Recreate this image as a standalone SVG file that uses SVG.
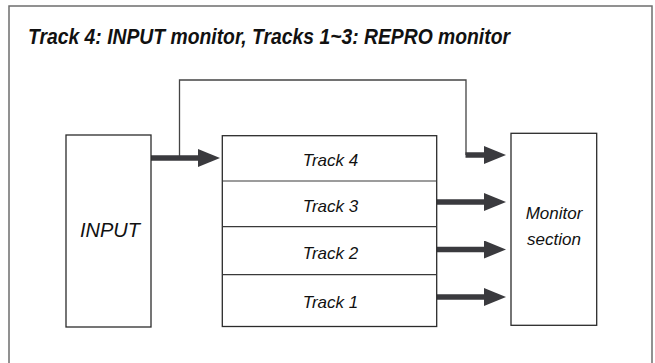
<svg xmlns="http://www.w3.org/2000/svg" width="655" height="363" viewBox="0 0 655 363">
<style>
.box{fill:#fff;stroke:#2b2b2b;stroke-width:1.3}
.div{stroke:#3a3a3a;stroke-width:1.2}
.lbl{font-family:"Liberation Sans",Arial,sans-serif;font-style:italic;fill:#111;text-anchor:middle}
.shaft{stroke:#3a3a3e;stroke-width:5.5;fill:none}
.thin{stroke:#444;stroke-width:1.3;fill:none}
</style>
<defs>
<marker id="head" markerUnits="userSpaceOnUse" markerWidth="22" markerHeight="18" refX="0" refY="9" orient="auto">
<path d="M0,0 L22,9 L0,18 z" fill="#3a3a3e"/>
</marker>
</defs>
<rect x="9" y="6" width="643" height="380" fill="#fff" stroke="#6e6e6e" stroke-width="1.5"/>
<text x="28" y="43.5" font-family="'Liberation Sans',Arial,sans-serif" font-weight="bold" font-style="italic" font-size="21.5" fill="#111" textLength="482" lengthAdjust="spacingAndGlyphs">Track 4: INPUT monitor, Tracks 1~3: REPRO monitor</text>
<g id="connectors">
<polyline class="thin" points="179.5,158 179.5,80 466,80 466,155"/>
<line class="shaft" x1="151" y1="158" x2="198" y2="158" marker-end="url(#head)"/>
<line class="shaft" x1="465.5" y1="155" x2="484" y2="155" marker-end="url(#head)"/>
<line class="shaft" x1="437" y1="202" x2="484" y2="202" marker-end="url(#head)"/>
<line class="shaft" x1="437" y1="249.5" x2="484" y2="249.5" marker-end="url(#head)"/>
<line class="shaft" x1="437" y1="297" x2="484" y2="297" marker-end="url(#head)"/>
</g>
<g id="input">
<rect class="box" x="66" y="135" width="85" height="192"/>
<text class="lbl" x="110" y="236.5" font-size="20">INPUT</text>
</g>
<g id="tracks">
<rect class="box" x="222.3" y="135.7" width="214.4" height="190.8"/>
<line class="div" x1="222.3" y1="181" x2="436.7" y2="181"/>
<line class="div" x1="222.3" y1="226.7" x2="436.7" y2="226.7"/>
<line class="div" x1="222.3" y1="274.7" x2="436.7" y2="274.7"/>
<text class="lbl" x="330.5" y="166" font-size="17">Track 4</text>
<text class="lbl" x="330.5" y="211.5" font-size="17">Track 3</text>
<text class="lbl" x="330.5" y="259" font-size="17">Track 2</text>
<text class="lbl" x="330.5" y="308" font-size="17">Track 1</text>
</g>
<g id="monitor">
<rect class="box" x="511" y="133.3" width="85.7" height="192"/>
<text class="lbl" x="554" y="219" font-size="17">Monitor</text>
<text class="lbl" x="554" y="245" font-size="17">section</text>
</g>
</svg>
